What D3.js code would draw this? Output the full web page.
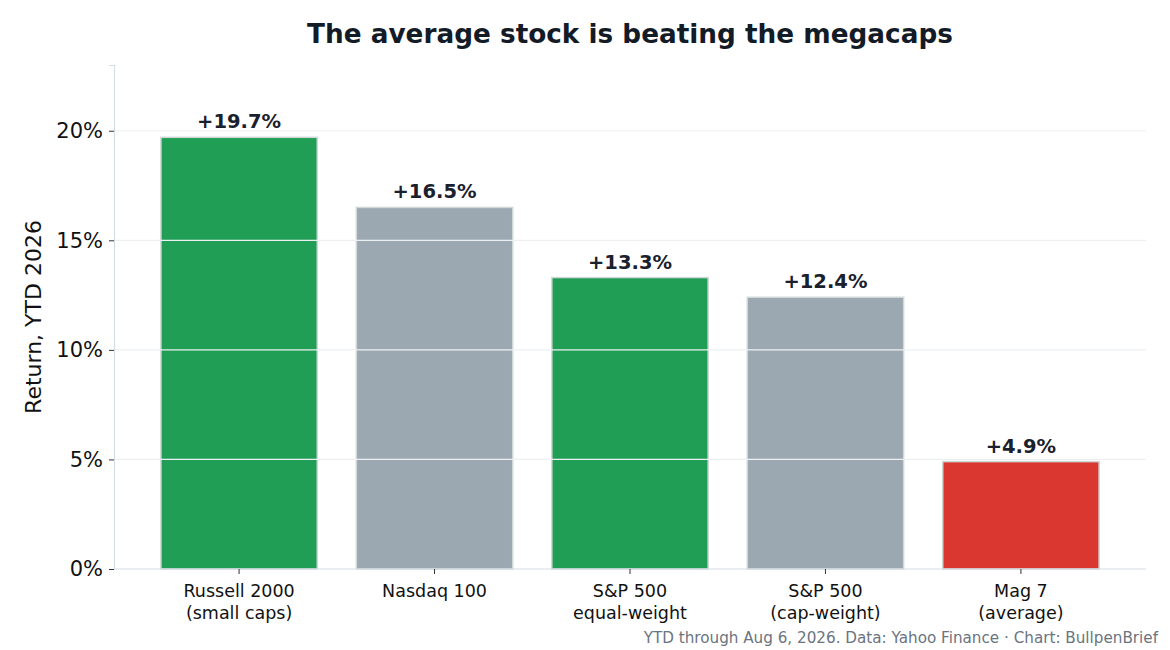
<!DOCTYPE html>
<html><head><meta charset="utf-8">
<script src="https://cdn.jsdelivr.net/npm/d3@7"></script>
<style>
html,body{margin:0;padding:0;background:#fff;}
svg{display:block;font-family:"DejaVu Sans",sans-serif;}
</style></head>
<body><svg id="chart" width="1170" height="650"></svg>
<script>
const categories = [["Russell 2000","(small caps)"],["Nasdaq 100"],["S&P 500","equal-weight"],["S&P 500","(cap-weight)"],["Mag 7","(average)"]];
const values = [19.7, 16.5, 13.3, 12.4, 4.9];
const barColors = ["#219e55","#9ca8b1","#219e55","#9ca8b1","#d9372f"];
const yTicks = [0,5,10,15,20];
const title = "The average stock is beating the megacaps";
const yLabel = "Return, YTD 2026";
const footer = "YTD through Aug 6, 2026. Data: Yahoo Finance \u00b7 Chart: BullpenBrief";

const svg = d3.select("#chart");
const L = 114, R = 1146, T = 65, B = 569;
const x = d3.scaleBand().domain(d3.range(values.length)).range([L, R]).paddingInner(0.2).paddingOuter(0.24);
const y = d3.scaleLinear().domain([0, 23.0]).range([B, T]);

// bars
svg.append("g").selectAll("rect").data(values).join("rect")
  .attr("x", (d,i) => x(i)).attr("width", x.bandwidth())
  .attr("y", d => y(d)).attr("height", d => y(0) - y(d))
  .attr("fill", (d,i) => barColors[i])
  .attr("stroke", "#cfd8d6").attr("stroke-width", 1.5);

// grid (drawn over bars)
svg.append("g").selectAll("line").data(yTicks.filter(t => t > 0)).join("line")
  .attr("x1", L).attr("x2", R).attr("y1", d => y(d)).attr("y2", d => y(d))
  .attr("stroke", "#edf0f3").attr("stroke-width", 1.2);

// y axis
const yAxis = svg.append("g").attr("transform", `translate(${L},0)`)
  .call(d3.axisLeft(y).tickValues(yTicks).tickFormat(d => d + "%").tickSize(5).tickPadding(6));
yAxis.select(".domain").attr("stroke", "#d5dde6").attr("stroke-width", 1.2);
yAxis.selectAll(".tick line").attr("stroke", "#333");
yAxis.selectAll(".tick text").attr("font-size", 21).attr("fill", "#111").attr("font-family", "DejaVu Sans");

// x axis
const xAxis = svg.append("g").attr("transform", `translate(0,${B})`)
  .call(d3.axisBottom(x).tickSize(5).tickFormat(""));
xAxis.select(".domain").attr("stroke", "#d5dde6").attr("stroke-width", 1.2).attr("d", `M${L},0H${R}`);
xAxis.selectAll(".tick line").attr("stroke", "#333");
xAxis.selectAll(".tick").each(function(d){
  const t = d3.select(this).append("text").attr("fill", "#111").attr("font-size", 17.5)
    .attr("text-anchor", "middle").attr("font-family", "DejaVu Sans");
  categories[d].forEach((line, k) => t.append("tspan").attr("x", 0).attr("y", 28 + k * 21.5).text(line));
});

// value labels
svg.append("g").selectAll("text").data(values).join("text")
  .attr("x", (d,i) => x(i) + x.bandwidth()/2).attr("y", d => y(d) - 9)
  .attr("text-anchor", "middle").attr("font-size", 19.5).attr("font-weight", "bold")
  .attr("fill", "#1a202c").text(d => "+" + d.toFixed(1) + "%");

// title
svg.append("text").attr("x", (L + R)/2).attr("y", 43).attr("text-anchor", "middle")
  .attr("font-size", 26.3).attr("font-weight", "bold").attr("fill", "#131b26").text(title);

// y label
svg.append("text").attr("transform", `translate(41,${(T + B)/2 - 0}) rotate(-90)`)
  .attr("text-anchor", "middle").attr("font-size", 22).attr("fill", "#111").text(yLabel);

// footer
svg.append("text").attr("x", 1158).attr("y", 643).attr("text-anchor", "end")
  .attr("font-size", 15.2).attr("fill", "#6b7480").text(footer);
</script></body></html>
